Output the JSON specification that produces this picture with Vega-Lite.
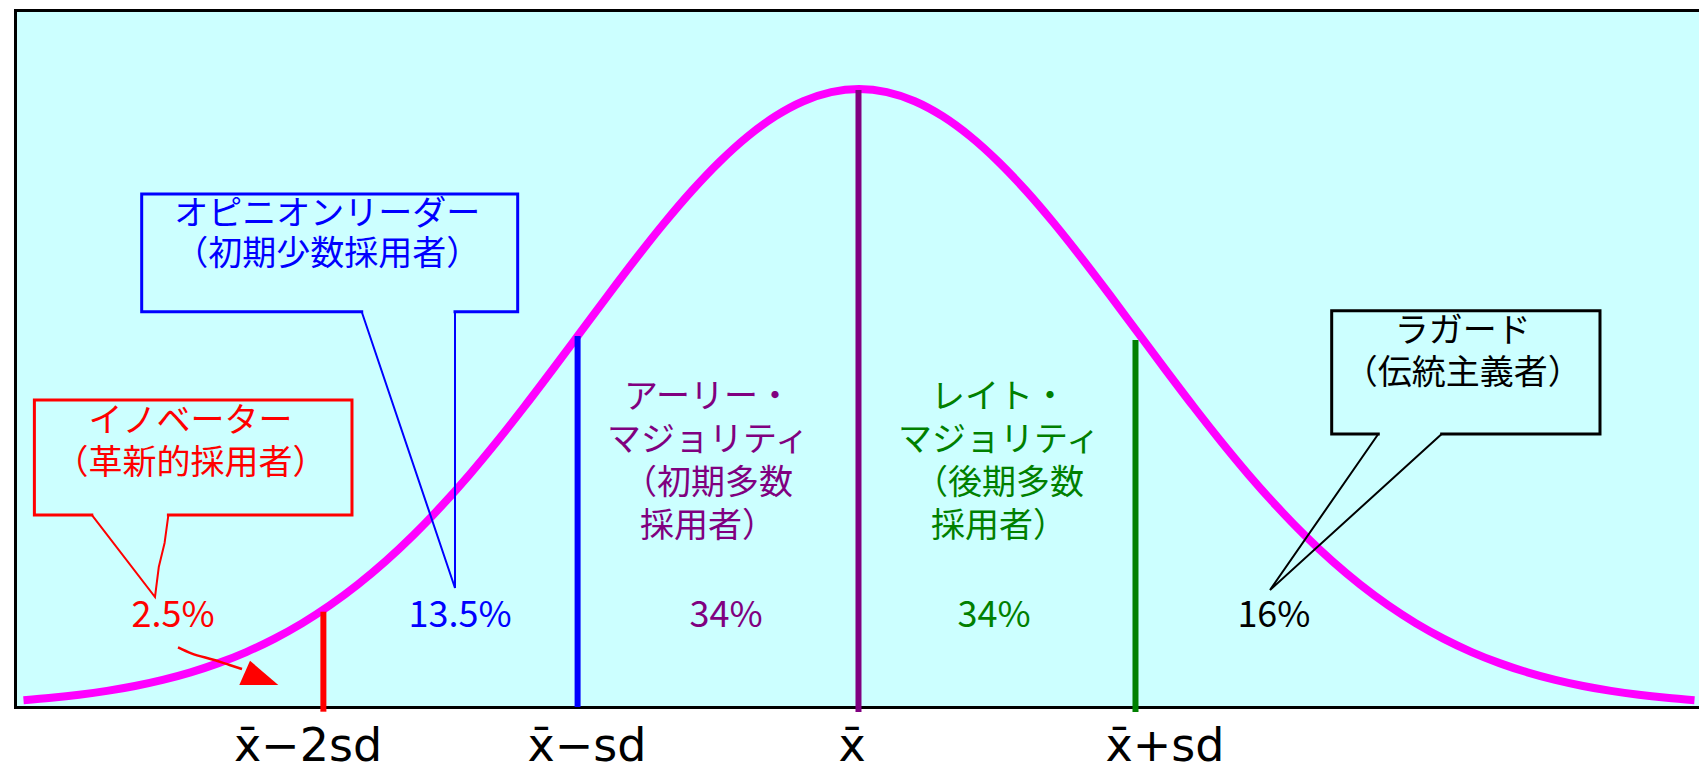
{
  "$schema": "https://vega.github.io/schema/vega-lite/v6.json",
  "width": 1684,
  "height": 697,
  "autosize": {"type": "none"},
  "padding": {"left": 15, "top": 10, "right": 0, "bottom": 64},
  "background": "#ffffff",
  "config": {
    "view": {"fill": "#ccffff", "stroke": null},
    "axis": {"domain": true, "domainColor": "#000000", "domainWidth": 3, "domainCap": "square", "ticks": false, "labels": false, "grid": false}
  },
  "datasets": {
    "curve": [
      {"x": -3.0, "y": 0.0111}, {"x": -2.9, "y": 0.0149}, {"x": -2.8, "y": 0.0198}, {"x": -2.7, "y": 0.0261},
      {"x": -2.6, "y": 0.0340}, {"x": -2.5, "y": 0.0439}, {"x": -2.4, "y": 0.0561}, {"x": -2.3, "y": 0.0710},
      {"x": -2.2, "y": 0.0889}, {"x": -2.1, "y": 0.1103}, {"x": -2.0, "y": 0.1353}, {"x": -1.9, "y": 0.1645},
      {"x": -1.8, "y": 0.1979}, {"x": -1.7, "y": 0.2357}, {"x": -1.6, "y": 0.2780}, {"x": -1.5, "y": 0.3247},
      {"x": -1.4, "y": 0.3753}, {"x": -1.3, "y": 0.4296}, {"x": -1.2, "y": 0.4868}, {"x": -1.1, "y": 0.5461},
      {"x": -1.0, "y": 0.6065}, {"x": -0.9, "y": 0.6670}, {"x": -0.8, "y": 0.7261}, {"x": -0.7, "y": 0.7827},
      {"x": -0.6, "y": 0.8353}, {"x": -0.5, "y": 0.8825}, {"x": -0.4, "y": 0.9231}, {"x": -0.3, "y": 0.9560},
      {"x": -0.2, "y": 0.9802}, {"x": -0.1, "y": 0.9950}, {"x": 0.0, "y": 1.0},
      {"x": 0.1, "y": 0.9950}, {"x": 0.2, "y": 0.9802}, {"x": 0.3, "y": 0.9560}, {"x": 0.4, "y": 0.9231},
      {"x": 0.5, "y": 0.8825}, {"x": 0.6, "y": 0.8353}, {"x": 0.7, "y": 0.7827}, {"x": 0.8, "y": 0.7261},
      {"x": 0.9, "y": 0.6670}, {"x": 1.0, "y": 0.6065}, {"x": 1.1, "y": 0.5461}, {"x": 1.2, "y": 0.4868},
      {"x": 1.3, "y": 0.4296}, {"x": 1.4, "y": 0.3753}, {"x": 1.5, "y": 0.3247}, {"x": 1.6, "y": 0.2780},
      {"x": 1.7, "y": 0.2357}, {"x": 1.8, "y": 0.1979}, {"x": 1.9, "y": 0.1645}, {"x": 2.0, "y": 0.1353},
      {"x": 2.1, "y": 0.1103}, {"x": 2.2, "y": 0.0889}, {"x": 2.3, "y": 0.0710}, {"x": 2.4, "y": 0.0561},
      {"x": 2.5, "y": 0.0439}, {"x": 2.6, "y": 0.0340}, {"x": 2.7, "y": 0.0261}, {"x": 2.8, "y": 0.0198},
      {"x": 2.9, "y": 0.0149}, {"x": 3.0, "y": 0.0111}
    ],
    "rules": [
      {"grp": "inn", "x": -1.9232, "y": 0.1542, "y2": -0.0076},
      {"grp": "op", "x": -1.0104, "y": 0.6003, "y2": 0},
      {"grp": "early", "x": -0.0018, "y": 0.9984, "y2": -0.0081},
      {"grp": "late", "x": 0.9928, "y": 0.5939, "y2": -0.0081}
    ],
    "boxes": [
      {"grp": "inn", "ord": 0, "x": -2.7548, "y": 0.3107},
      {"grp": "inn", "ord": 1, "x": -2.9609, "y": 0.3107},
      {"grp": "inn", "ord": 2, "x": -2.9609, "y": 0.4968},
      {"grp": "inn", "ord": 3, "x": -1.8205, "y": 0.4968},
      {"grp": "inn", "ord": 4, "x": -1.8205, "y": 0.3107},
      {"grp": "inn", "ord": 5, "x": -2.4797, "y": 0.3107},
      {"grp": "op", "ord": 0, "x": -1.7856, "y": 0.6396},
      {"grp": "op", "ord": 1, "x": -2.5756, "y": 0.6396},
      {"grp": "op", "ord": 2, "x": -2.5756, "y": 0.8301},
      {"grp": "op", "ord": 3, "x": -1.2255, "y": 0.8301},
      {"grp": "op", "ord": 4, "x": -1.2255, "y": 0.6396},
      {"grp": "op", "ord": 5, "x": -1.4506, "y": 0.6396},
      {"grp": "lag", "ord": 0, "x": 1.8646, "y": 0.4417},
      {"grp": "lag", "ord": 1, "x": 1.6973, "y": 0.4417},
      {"grp": "lag", "ord": 2, "x": 1.6973, "y": 0.6413},
      {"grp": "lag", "ord": 3, "x": 2.6607, "y": 0.6413},
      {"grp": "lag", "ord": 4, "x": 2.6607, "y": 0.4417},
      {"grp": "lag", "ord": 5, "x": 2.0923, "y": 0.4417}
    ],
    "tails": [
      {"grp": "inn", "ord": 0, "x": -2.7548, "y": 0.3107},
      {"grp": "inn", "ord": 1, "x": -2.5278, "y": 0.1780},
      {"grp": "inn", "ord": 2, "x": -2.5142, "y": 0.2265},
      {"grp": "inn", "ord": 3, "x": -2.4934, "y": 0.2654},
      {"grp": "inn", "ord": 4, "x": -2.4797, "y": 0.3107},
      {"grp": "op", "ord": 0, "x": -1.7856, "y": 0.6396},
      {"grp": "op", "ord": 1, "x": -1.4506, "y": 0.1926},
      {"grp": "op", "ord": 2, "x": -1.4506, "y": 0.6396},
      {"grp": "lag", "ord": 0, "x": 1.8646, "y": 0.4417},
      {"grp": "lag", "ord": 1, "x": 1.4758, "y": 0.1893},
      {"grp": "lag", "ord": 2, "x": 2.0923, "y": 0.4417}
    ],
    "arrow": [
      {"grp": "inn", "ord": 0, "x": -2.4452, "y": 0.0966},
      {"grp": "inn", "ord": 1, "x": -2.3975, "y": 0.0869},
      {"grp": "inn", "ord": 2, "x": -2.3149, "y": 0.0761},
      {"grp": "inn", "ord": 3, "x": -2.2600, "y": 0.0680},
      {"grp": "inn", "ord": 4, "x": -2.2154, "y": 0.0615}
    ],
    "tri": [
      {"grp": "inn", "x": -2.1551, "y": 0.0553}
    ],
    "bubbletext": [
      {"t": ["イノベーター", "（革新的採用者）"], "x": -2.40, "y": 0.4612, "grp": "inn"},
      {"t": ["ラガード", "（伝統主義者）"], "x": 2.168, "y": 0.6068, "grp": "lag"}
    ],
    "optext": [
      {"t": ["オピニオンリーダー", "（初期少数採用者）"], "x": -1.909, "y": 0.7961, "grp": "op"}
    ],
    "blocktext": [
      {"t": ["アーリー・", "マジョリティ", "（初期多数", "採用者）"], "x": -0.5422, "y": 0.5000, "grp": "early"},
      {"t": ["レイト・", "マジョリティ", "（後期多数", "採用者）"], "x": 0.5027, "y": 0.5000, "grp": "late"}
    ],
    "pct": [
      {"t": "2.5%", "x": -2.4632, "y": 0.1472, "grp": "inn"},
      {"t": "13.5%", "x": -1.4327, "y": 0.1472, "grp": "op"},
      {"t": "34%", "x": -0.4776, "y": 0.1472, "grp": "early"},
      {"t": "34%", "x": 0.4847, "y": 0.1472, "grp": "late"},
      {"t": "16%", "x": 1.490, "y": 0.1472, "grp": "lag"}
    ],
    "axislab": [
      {"t": "x̄−2sd", "x": -1.9785, "y": -0.0874},
      {"t": "x̄−sd", "x": -0.9767, "y": -0.0874},
      {"t": "x̄", "x": -0.0251, "y": -0.0874},
      {"t": "x̄+sd", "x": 1.0987, "y": -0.0874}
    ]
  },
  "layer": [
    {
      "data": {"name": "curve"},
      "mark": {"type": "line", "color": "#ff00ff", "strokeWidth": 8, "interpolate": "monotone", "strokeCap": "butt"},
      "encoding": {
        "x": {"field": "x", "type": "quantitative", "title": null, "scale": {"domain": [-3.0305, 3.0162], "nice": false, "zero": false}, "axis": {"orient": "top"}},
        "y": {"field": "y", "type": "quantitative", "title": null, "scale": {"domain": [0, 1.1278], "nice": false, "zero": false}}
      }
    },
    {
      "layer": [
        {
          "data": {"name": "boxes"},
          "mark": {"type": "line", "strokeWidth": 3, "strokeJoin": "miter", "strokeCap": "square"},
          "encoding": {
            "x": {"field": "x", "type": "quantitative", "title": null, "scale": {"domain": [-3.0305, 3.0162], "nice": false, "zero": false}},
            "y": {"field": "y", "type": "quantitative", "title": null, "scale": {"domain": [0, 1.1278], "nice": false, "zero": false}},
            "order": {"field": "ord"},
            "color": {"field": "grp", "type": "nominal", "legend": null, "scale": {"domain": ["inn", "op", "early", "late", "lag"], "range": ["#ff0000", "#0000ff", "#800080", "#008000", "#000000"]}}
          }
        },
        {
          "data": {"name": "tails"},
          "mark": {"type": "line", "strokeWidth": 2},
          "encoding": {
            "x": {"field": "x", "type": "quantitative", "title": null, "scale": {"domain": [-3.0305, 3.0162], "nice": false, "zero": false}},
            "y": {"field": "y", "type": "quantitative", "title": null, "scale": {"domain": [0, 1.1278], "nice": false, "zero": false}},
            "order": {"field": "ord"},
            "color": {"field": "grp", "type": "nominal", "legend": null, "scale": {"domain": ["inn", "op", "early", "late", "lag"], "range": ["#ff0000", "#0000ff", "#800080", "#008000", "#000000"]}}
          }
        },
        {
          "data": {"name": "arrow"},
          "mark": {"type": "line", "strokeWidth": 2.5, "interpolate": "monotone"},
          "encoding": {
            "x": {"field": "x", "type": "quantitative", "title": null, "scale": {"domain": [-3.0305, 3.0162], "nice": false, "zero": false}},
            "y": {"field": "y", "type": "quantitative", "title": null, "scale": {"domain": [0, 1.1278], "nice": false, "zero": false}},
            "order": {"field": "ord"},
            "color": {"field": "grp", "type": "nominal", "legend": null, "scale": {"domain": ["inn", "op", "early", "late", "lag"], "range": ["#ff0000", "#0000ff", "#800080", "#008000", "#000000"]}}
          }
        },
        {
          "data": {"name": "tri"},
          "mark": {"type": "point", "shape": "M-1,0.62L-0.45,-0.62L1,0.62Z", "size": 1521, "filled": true, "opacity": 1, "strokeWidth": 0},
          "encoding": {
            "x": {"field": "x", "type": "quantitative", "title": null, "scale": {"domain": [-3.0305, 3.0162], "nice": false, "zero": false}},
            "y": {"field": "y", "type": "quantitative", "title": null, "scale": {"domain": [0, 1.1278], "nice": false, "zero": false}},
            "color": {"field": "grp", "type": "nominal", "legend": null, "scale": {"domain": ["inn", "op", "early", "late", "lag"], "range": ["#ff0000", "#0000ff", "#800080", "#008000", "#000000"]}}
          }
        },
        {
          "data": {"name": "rules"},
          "mark": {"type": "rule", "strokeWidth": 6},
          "encoding": {
            "x": {"field": "x", "type": "quantitative", "title": null, "scale": {"domain": [-3.0305, 3.0162], "nice": false, "zero": false}},
            "y": {"field": "y", "type": "quantitative", "title": null, "scale": {"domain": [0, 1.1278], "nice": false, "zero": false}},
            "y2": {"field": "y2"},
            "color": {"field": "grp", "type": "nominal", "legend": null, "scale": {"domain": ["inn", "op", "early", "late", "lag"], "range": ["#ff0000", "#0000ff", "#800080", "#008000", "#000000"]}}
          }
        },
        {
          "data": {"name": "bubbletext"},
          "mark": {"type": "text", "font": "Noto Sans CJK JP", "fontSize": 34, "lineHeight": 42.5, "align": "center", "baseline": "middle"},
          "encoding": {
            "x": {"field": "x", "type": "quantitative", "title": null, "scale": {"domain": [-3.0305, 3.0162], "nice": false, "zero": false}},
            "y": {"field": "y", "type": "quantitative", "title": null, "scale": {"domain": [0, 1.1278], "nice": false, "zero": false}},
            "text": {"field": "t"},
            "color": {"field": "grp", "type": "nominal", "legend": null, "scale": {"domain": ["inn", "op", "early", "late", "lag"], "range": ["#ff0000", "#0000ff", "#800080", "#008000", "#000000"]}}
          }
        },
        {
          "data": {"name": "optext"},
          "mark": {"type": "text", "font": "Noto Sans CJK JP", "fontSize": 34, "lineHeight": 40, "align": "center", "baseline": "middle"},
          "encoding": {
            "x": {"field": "x", "type": "quantitative", "title": null, "scale": {"domain": [-3.0305, 3.0162], "nice": false, "zero": false}},
            "y": {"field": "y", "type": "quantitative", "title": null, "scale": {"domain": [0, 1.1278], "nice": false, "zero": false}},
            "text": {"field": "t"},
            "color": {"field": "grp", "type": "nominal", "legend": null, "scale": {"domain": ["inn", "op", "early", "late", "lag"], "range": ["#ff0000", "#0000ff", "#800080", "#008000", "#000000"]}}
          }
        },
        {
          "data": {"name": "blocktext"},
          "mark": {"type": "text", "font": "Noto Sans CJK JP", "fontSize": 34, "lineHeight": 43, "align": "center", "baseline": "middle"},
          "encoding": {
            "x": {"field": "x", "type": "quantitative", "title": null, "scale": {"domain": [-3.0305, 3.0162], "nice": false, "zero": false}},
            "y": {"field": "y", "type": "quantitative", "title": null, "scale": {"domain": [0, 1.1278], "nice": false, "zero": false}},
            "text": {"field": "t"},
            "color": {"field": "grp", "type": "nominal", "legend": null, "scale": {"domain": ["inn", "op", "early", "late", "lag"], "range": ["#ff0000", "#0000ff", "#800080", "#008000", "#000000"]}}
          }
        },
        {
          "data": {"name": "pct"},
          "mark": {"type": "text", "font": "Noto Sans CJK JP", "fontSize": 36, "align": "center", "baseline": "middle"},
          "encoding": {
            "x": {"field": "x", "type": "quantitative", "title": null, "scale": {"domain": [-3.0305, 3.0162], "nice": false, "zero": false}},
            "y": {"field": "y", "type": "quantitative", "title": null, "scale": {"domain": [0, 1.1278], "nice": false, "zero": false}},
            "text": {"field": "t"},
            "color": {"field": "grp", "type": "nominal", "legend": null, "scale": {"domain": ["inn", "op", "early", "late", "lag"], "range": ["#ff0000", "#0000ff", "#800080", "#008000", "#000000"]}}
          }
        },
        {
          "data": {"name": "axislab"},
          "mark": {"type": "text", "font": "DejaVu Sans", "fontSize": 46, "align": "center", "baseline": "alphabetic", "color": "#000000"},
          "encoding": {
            "x": {"field": "x", "type": "quantitative", "title": null, "scale": {"domain": [-3.0305, 3.0162], "nice": false, "zero": false}},
            "y": {"field": "y", "type": "quantitative", "title": null, "scale": {"domain": [0, 1.1278], "nice": false, "zero": false}},
            "text": {"field": "t"}
          }
        }
      ]
    }
  ],
  "resolve": {"axis": {"x": "independent"}}
}
